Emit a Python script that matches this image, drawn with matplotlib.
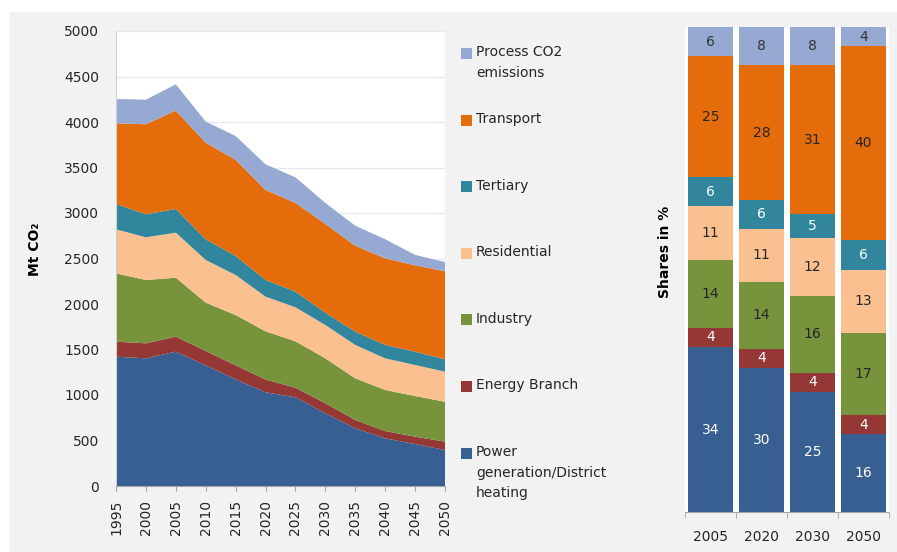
#!/usr/bin/env python3
"""CO2 emissions by sector: stacked area (Mt CO2) plus 100% stacked shares."""

import matplotlib.pyplot as plt
from matplotlib.patches import Rectangle
import numpy as np

plt.rcParams['font.family'] = ['DejaVu Sans']

# --- data -------------------------------------------------------------
years = [1995, 2000, 2005, 2010, 2015, 2020, 2025, 2030, 2035, 2040, 2045, 2050]

power = [1421, 1403, 1476, 1326, 1172, 1030, 975, 799, 634, 524, 461, 396]
energy = [165, 165, 165, 158, 154, 140, 105, 110, 91, 80, 81, 91]
industry = [751, 696, 648, 531, 553, 530, 510, 494, 458, 451, 447, 439]
residential = [484, 469, 495, 469, 440, 381, 374, 366, 367, 348, 341, 330]
tertiary = [278, 253, 260, 227, 209, 183, 172, 135, 146, 147, 146, 136]
transport = [887, 989, 1081, 1062, 1055, 989, 975, 976, 944, 952, 949, 968]
process = [267, 270, 289, 231, 263, 282, 281, 230, 220, 210, 115, 100]

sectors = ['Power\ngeneration/District\nheating', 'Energy Branch', 'Industry',
           'Residential', 'Tertiary', 'Transport', 'Process CO2\nemissions']
colors = ['#375F91', '#953735', '#77933C', '#FAC090', '#31859C', '#E46C0A', '#95A9D3']
label_colors = ['white', 'white', '#262626', '#262626', 'white', '#262626', '#333333']

bar_years = ['2005', '2020', '2030', '2050']
power_sh = [34, 30, 25, 16]
energy_sh = [4, 4, 4, 4]
industry_sh = [14, 14, 16, 17]
residential_sh = [11, 11, 12, 13]
tertiary_sh = [6, 6, 5, 6]
transport_sh = [25, 28, 31, 40]
process_sh = [6, 8, 8, 4]

series = [power, energy, industry, residential, tertiary, transport, process]
shares = [power_sh, energy_sh, industry_sh, residential_sh, tertiary_sh,
          transport_sh, process_sh]

W, H = 897, 552
fig = plt.figure(figsize=(W / 100, H / 100), dpi=100)
fig.patch.set_facecolor('white')
fig.patches.append(Rectangle((9 / W, 0), 1, 1 - 12 / H, transform=fig.transFigure,
                             facecolor='#f2f2f2', edgecolor='none', zorder=-10))

txt = '#262626'
axis_grey = '#a6a6a6'

# --- left: stacked area ------------------------------------------------
ax = fig.add_axes([116 / W, 1 - 486 / H, 329 / W, 455 / H])
ax.stackplot(years, series, colors=colors, linewidth=0)
ax.set_xlim(1995, 2050)
ax.set_ylim(0, 5000)
ax.set_xticks(years)
ax.set_xticklabels([str(y) for y in years], rotation=90)
ax.set_yticks(range(0, 5001, 500))
ax.grid(axis='y', color='#e2e9f3', lw=1)
ax.set_axisbelow(True)
ax.tick_params(axis='y', length=0, pad=12, labelsize=10, labelcolor=txt)
ax.tick_params(axis='x', length=3.6, color=axis_grey, pad=6.5, labelsize=10, labelcolor=txt)
for s in ['top', 'right']:
    ax.spines[s].set_visible(False)
ax.spines['left'].set_color('#d0d0d0')
ax.spines['bottom'].set_color(axis_grey)
ax.set_ylabel('Mt CO₂', fontweight='bold', fontsize=10, color='black')
ax.yaxis.set_label_coords(-0.225, 0.52)

# --- legend (manual, top to bottom) -------------------------------------
for k, i in enumerate(range(len(sectors) - 1, -1, -1)):
    yc = 53.5 + k * 66.6
    fig.patches.append(Rectangle((461 / W, 1 - (yc + 5.5) / H), 11 / W, 11 / H,
                                 transform=fig.transFigure, facecolor=colors[i],
                                 edgecolor='none'))
    fig.text(476 / W, 1 - (yc - 8) / H, sectors[i], va='top', ha='left',
             fontsize=10, color=txt, linespacing=1.6)

# --- right: 100% stacked shares -----------------------------------------
ax2 = fig.add_axes([685 / W, 1 - 512 / H, 204 / W, 485 / H])
x = np.arange(len(bar_years))
totals = np.sum(np.array(shares), axis=0)
bottom = np.zeros(len(bar_years))
for sh, c, tc in zip(shares, colors, label_colors):
    h = np.array(sh) / totals * 100
    ax2.bar(x, h, 0.88, bottom=bottom, color=c, linewidth=0)
    for xi, hi, bi, v in zip(x, h, bottom, sh):
        ax2.text(xi, bi + hi / 2, str(v), ha='center', va='center', color=tc, fontsize=10)
    bottom += h
ax2.set_xlim(-0.5, len(bar_years) - 0.5)
ax2.set_ylim(0, 100)
ax2.set_yticks([])
for s in ['top', 'right', 'left']:
    ax2.spines[s].set_visible(False)
ax2.spines['bottom'].set_color(axis_grey)
ax2.set_xticks(x)
ax2.set_xticklabels(bar_years)
ax2.set_xticks(np.arange(-0.5, len(bar_years), 1), minor=True)
ax2.tick_params(axis='x', which='major', length=0, pad=13, labelsize=10, labelcolor=txt)
ax2.tick_params(axis='x', which='minor', length=4, color=axis_grey)
ax2.set_ylabel('Shares in %', fontweight='bold', fontsize=10, color='black')
ax2.yaxis.set_label_coords(-0.064, 0.536)

fig.savefig('out.png', dpi=100)
